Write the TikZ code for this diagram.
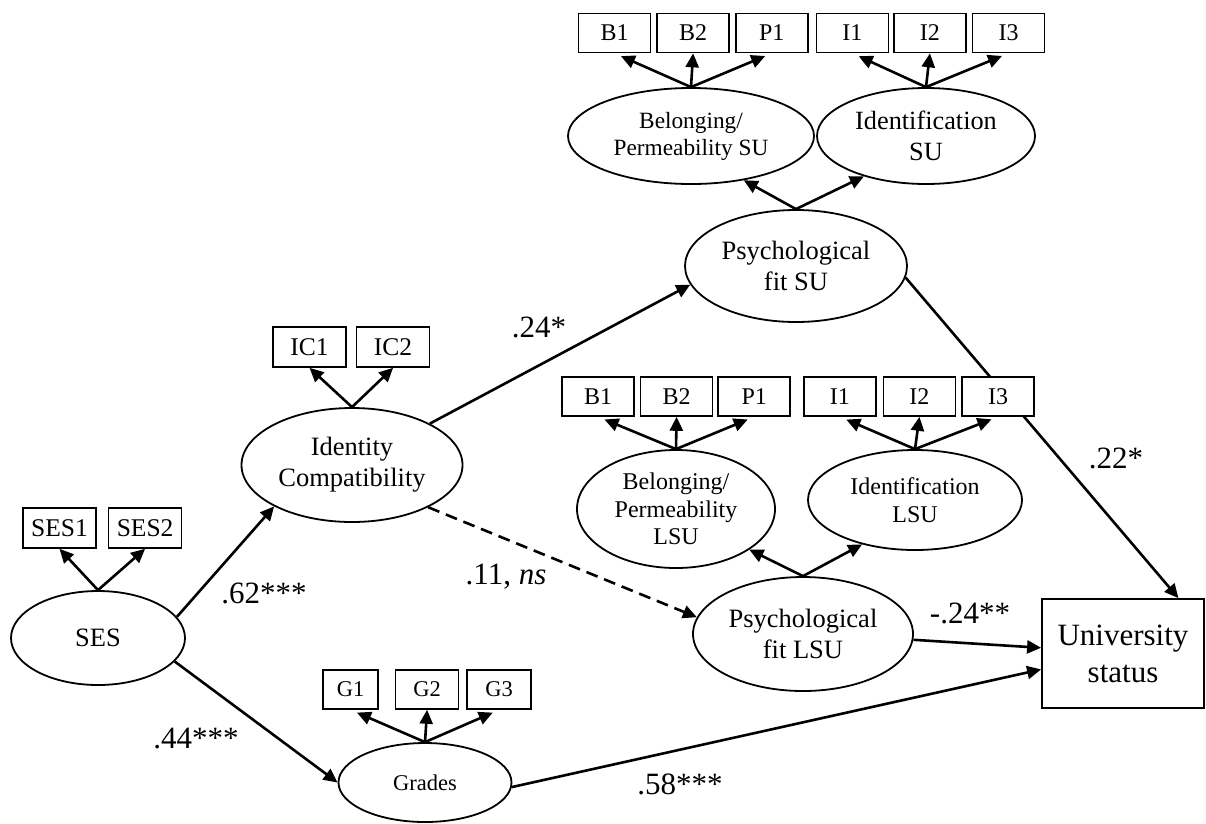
\documentclass[tikz,border=0pt]{standalone}
\usepackage{fontspec}
\setmainfont{Liberation Serif}
\usetikzlibrary{positioning, calc, arrows.meta, shapes.geometric, backgrounds}

\begin{document}
\begin{tikzpicture}[
  x=1pt, y=-1pt,
  %% variaveis latentes (elipses)
  lat/.style={
    ellipse, draw=black, line width=1.8pt, inner sep=0pt,
    align=center, fill=white,
    font=\fontsize{26.5}{31}\selectfont
  },
  %% indicadores (caixas pequenas)
  ind/.style={
    rectangle, draw=black, line width=1.6pt, inner sep=0pt,
    minimum width=72pt, minimum height=39pt,
    fill=white, font=\fontsize{24}{28}\selectfont
  },
  %% desfecho
  outc/.style={
    rectangle, draw=black, line width=1.8pt,
    minimum width=162pt, minimum height=109pt, align=center,
    fill=white, font=\fontsize{31}{37}\selectfont
  },
  %% setas
  arr/.style={-{Triangle[length=14pt,width=13pt]}, line width=2.6pt},
  ldarr/.style={arr, shorten >=7pt},
  %% coeficientes
  coef/.style={font=\fontsize{31}{36}\selectfont}
]
\useasboundingbox (0,0) rectangle (1206,823);

%% ================================================================
%% PSYCHOLOGICAL FIT SU
%% ================================================================
\node[ind] (B1su) at (614.5,33) {B1};
\node[ind, right=5pt of B1su] (B2su) {B2};
\node[ind, right=5pt of B2su] (P1su) {P1};
\node[ind, right=7pt of P1su] (I1su) {I1};
\node[ind, right=4pt of I1su] (I2su) {I2};
\node[ind, right=5pt of I2su] (I3su) {I3};

\node[lat, minimum width=246pt, minimum height=96pt,
      font=\fontsize{23.3}{27}\selectfont] (BPsu) at (691,136)
  {Belonging/\\Permeability SU};
\node[lat, minimum width=218pt, minimum height=96pt,
      font=\fontsize{26.3}{31}\selectfont] (IDsu) at (926,136)
  {Identification\\SU};
\node[lat, minimum width=222pt, minimum height=112pt] (PFsu) at (796,266)
  {Psychological\\fit SU};

\draw[ldarr] (BPsu.north) -- (B1su.south);
\draw[arr]   (BPsu.north) -- (B2su.south);
\draw[ldarr] (BPsu.north) -- (P1su.south);
\draw[ldarr] (IDsu.north) -- (I1su.south);
\draw[arr]   (IDsu.north) -- (I2su.south);
\draw[ldarr] (IDsu.north) -- (I3su.south);

\draw[arr] (PFsu.north) -- (BPsu.-40);
\draw[arr] (PFsu.north) -- (IDsu.-147);

%% ================================================================
%% PSYCHOLOGICAL FIT LSU
%% ================================================================
\node[ind] (B1lsu) at (598,396.5) {B1};
\node[ind, right=5pt of B1lsu] (B2lsu) {B2};
\node[ind, right=4pt of B2lsu] (P1lsu) {P1};
\node[ind, right=12pt of P1lsu] (I1lsu) {I1};
\node[ind, right=6pt of I1lsu] (I2lsu) {I2};
\node[ind, right=5pt of I2lsu] (I3lsu) {I3};

\node[lat, minimum width=198pt, minimum height=118pt,
      font=\fontsize{24}{27.5}\selectfont] (BPlsu) at (676,509)
  {Belonging/\\Permeability\\LSU};
\node[lat, minimum width=214pt, minimum height=100pt,
      font=\fontsize{24}{28}\selectfont] (IDlsu) at (915,500)
  {Identification\\LSU};
\node[lat, minimum width=220pt, minimum height=114pt] (PFlsu) at (803,634)
  {Psychological\\fit LSU};

\draw[ldarr] (BPlsu.north) -- (B1lsu.south);
\draw[arr]   (BPlsu.north) -- (B2lsu.south);
\draw[ldarr] (BPlsu.north) -- (P1lsu.south);
\draw[ldarr] (IDlsu.north) -- (I1lsu.south);
\draw[arr]   (IDlsu.north) -- (I2lsu.south);
\draw[ldarr] (IDlsu.north) -- (I3lsu.south);

\draw[arr] (PFlsu.north) -- (BPlsu.-29);
\draw[arr] (PFlsu.north) -- (IDlsu.-140);

%% ================================================================
%% IDENTITY COMPATIBILITY, SES, GRADES
%% ================================================================
\node[ind, minimum width=73pt, minimum height=40pt,
      font=\fontsize{25.5}{29}\selectfont] (IC1) at (309.5,347) {IC1};
\node[ind, minimum width=73pt, minimum height=40pt,
      font=\fontsize{25.5}{29}\selectfont, right=9pt of IC1] (IC2) {IC2};
\node[lat, minimum width=221pt, minimum height=114pt] (IC) at (352,465)
  {Identity\\Compatibility};

\draw[arr] (IC.north) -- (IC1.south);
\draw[arr] (IC.north) -- (IC2.south);

\node[ind, minimum width=73pt, minimum height=40pt,
      font=\fontsize{25.5}{29}\selectfont] (SES1) at (59.5,528) {SES1};
\node[ind, minimum width=73pt, minimum height=40pt,
      font=\fontsize{25.5}{29}\selectfont, right=11pt of SES1] (SES2) {SES2};
\node[lat, minimum width=174pt, minimum height=94pt] (SES) at (98,638) {SES};

\draw[arr] (SES.north) -- (SES1.south);
\draw[arr] (SES.north) -- (SES2.south);

\node[ind, minimum width=55pt, font=\fontsize{22.5}{26}\selectfont]
  (G1) at (350.5,689.5) {G1};
\node[ind, minimum width=63pt, font=\fontsize{22.5}{26}\selectfont,
      right=16pt of G1] (G2) {G2};
\node[ind, minimum width=64pt, font=\fontsize{22.5}{26}\selectfont,
      right=7pt of G2] (G3) {G3};
\node[lat, minimum width=173pt, minimum height=79pt,
      font=\fontsize{22.5}{26}\selectfont] (GR) at (425,782.5) {Grades};

\draw[ldarr] (GR.north) -- (G1.south);
\draw[arr]   (GR.north) -- (G2.south);
\draw[ldarr] (GR.north) -- (G3.south);

%% ================================================================
%% DESFECHO
%% ================================================================
\node[outc] (US) at (1123,653.5) {University\\status};

%% ================================================================
%% CAMINHOS ESTRUTURAIS
%% ================================================================
\draw[arr] (SES.15) -- (IC.-152);
\draw[arr] (SES.-17) -- (GR.west);
\draw[arr] (IC.28) -- (PFsu.190);
\draw[arr, dash pattern=on 12pt off 7pt] (IC.-29) -- (PFlsu.171);
%% passa por tras da caixa I3 (LSU)
\begin{pgfonlayer}{background}
  \draw[arr] (PFsu.-6) -- (US.45);
\end{pgfonlayer}
\draw[arr] (PFlsu.-3) -- (US.176);
\draw[arr] (GR.-3) -- (US.191);

%% coeficientes
\node[coef] (c62) at (264,593) {.62***};
\node[coef] (c44) at (196,738) {.44***};
\node[coef] (c24a) at (539,327) {.24*};
\node[coef] (c11) at (506,577) {.11, \textit{ns}};
\node[coef] (c22) at (1116,458) {.22*};
\node[coef] (c24b) at (970,613) {-.24**};
\node[coef] (c58) at (680,784) {.58***};

\end{tikzpicture}
\end{document}
